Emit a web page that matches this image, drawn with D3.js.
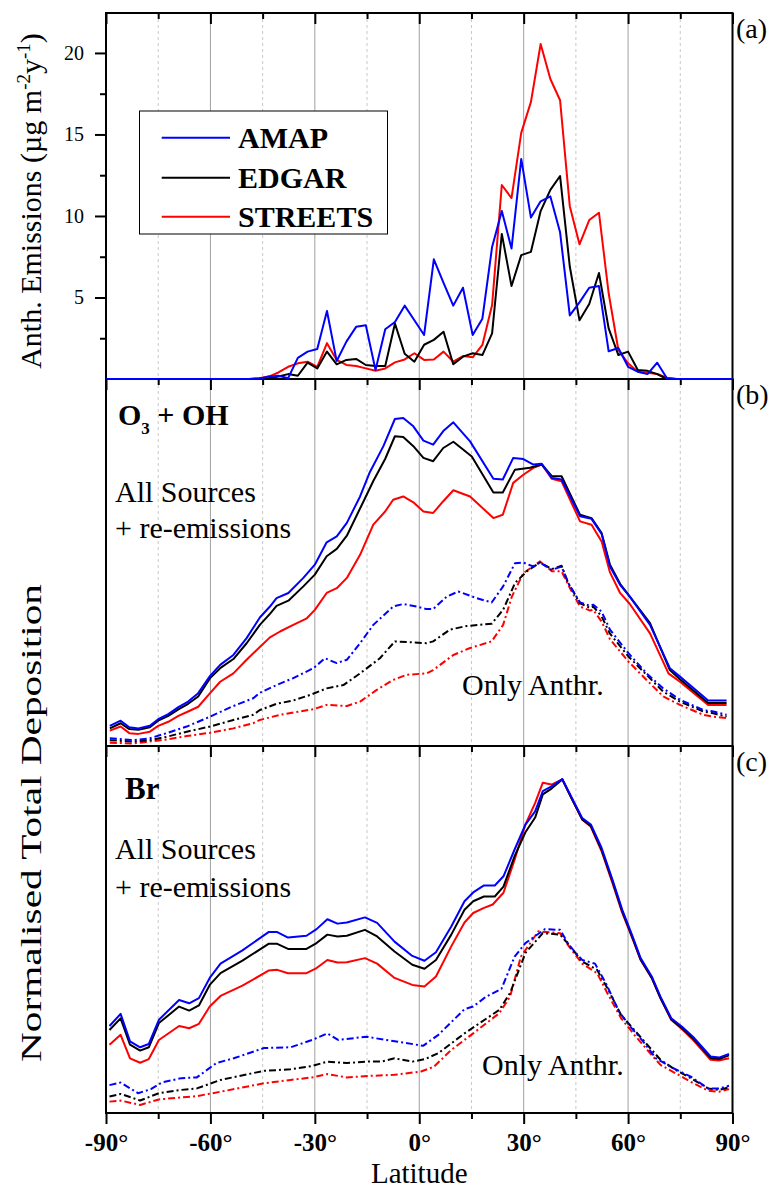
<!DOCTYPE html>
<html>
<head>
<meta charset="utf-8">
<script src="https://cdn.jsdelivr.net/npm/d3@7"></script>
<style>
  body { margin: 0; background: #fff; }
  svg { display: block; font-family: "Liberation Serif", "Times New Roman", serif; }
</style>
</head>
<body>
<svg id="chart" width="771" height="1189"></svg>
<script>
// ---- data ----
const latGrid = [-90, -87.86, -85.10, -82.31, -79.53, -76.74, -73.95, -71.16, -68.37, -65.58, -62.79,
  -60.00, -57.21, -54.42, -51.63, -48.84, -46.04, -43.25, -40.46, -37.67, -34.88, -32.09, -29.30,
  -26.51, -23.72, -20.93, -18.14, -15.35, -12.56, -9.77, -6.98, -4.19, -1.40, 1.40, 4.19, 6.98,
  9.77, 12.56, 15.35, 18.14, 20.93, 23.72, 26.51, 29.30, 32.09, 34.88, 37.67, 40.46, 43.25, 46.04,
  48.84, 51.63, 54.42, 57.21, 60.00, 62.79, 65.58, 68.37, 71.16, 73.95, 76.74, 79.53, 82.31, 85.10,
  87.86, 90];

// panel (a) anthropogenic emissions, ug m-2 y-1
const emisAMAP = [0, 0, 0, 0, 0, 0, 0, 0, 0, 0, 0, 0, 0, 0, 0, 0,
  0.02, 0.15, 0.2, 0.05, 1.3, 1.68, 1.84, 4.17, 1.1, 2.29, 3.2, 3.3, 0.55, 3.05, 3.5, 4.5, 3.6,
  2.7, 7.34, 5.9, 4.5, 5.6, 2.7, 3.7, 8.1, 10.3, 8.0, 13.5, 9.9, 10.9, 11.2, 9.0, 3.9, 4.7, 5.6,
  5.7, 1.7, 1.9, 0.75, 0.45, 0.3, 1.0, 0.05, 0, 0, 0, 0, 0, 0, 0];
const emisEDGAR = [0, 0, 0, 0, 0, 0, 0, 0, 0, 0, 0, 0, 0, 0, 0, 0,
  0.02, 0.05, 0.15, 0.3, 0.2, 1.0, 0.65, 1.68, 0.9, 1.17, 1.23, 0.86, 0.8, 0.8, 3.4, 1.55, 1.06,
  2.1, 2.4, 2.9, 0.9, 1.37, 1.58, 1.47, 2.8, 8.9, 5.7, 7.6, 7.8, 10.3, 11.6, 12.45, 6.9, 3.6, 4.6,
  6.5, 3.1, 1.47, 1.68, 0.55, 0.5, 0.3, 0, 0, 0, 0, 0, 0, 0, 0];
const emisSTREETS = [0, 0, 0, 0, 0, 0, 0, 0, 0, 0, 0, 0, 0, 0, 0, 0,
  0.05, 0.15, 0.4, 0.75, 0.96, 1.06, 0.75, 2.2, 1.17, 0.86, 0.8, 0.65, 0.51, 0.65, 1.02, 1.2, 1.58,
  1.17, 1.2, 1.68, 1.06, 1.41, 1.33, 2.09, 4.54, 11.9, 11.1, 15.1, 17.0, 20.55, 18.4, 17.1, 10.6,
  8.26, 9.75, 10.2, 5.26, 1.78, 0.96, 0.45, 0.39, 0.31, 0.08, 0, 0, 0, 0, 0, 0, 0];

// panel (b) O3 + OH, normalised deposition [lat, value]
const ohAllAMAP = [[-88.9,0.055],[-85.8,0.069],[-83.3,0.051],[-80.7,0.048],[-77.4,0.055],[-75.0,0.073],
  [-72.1,0.087],[-69.2,0.106],[-66.4,0.121],[-63.5,0.144],[-60.1,0.191],[-57.2,0.221],[-53.4,0.248],
  [-49.6,0.294],[-45.8,0.35],[-42.9,0.38],[-41.0,0.403],[-37.6,0.417],[-33.3,0.458],[-30.0,0.494],
  [-26.6,0.555],[-23.7,0.571],[-20.8,0.608],[-17.0,0.680],[-14.2,0.746],[-10.3,0.817],[-7.0,0.891],
  [-4.6,0.894],[-1.7,0.871],[1.2,0.832],[4.0,0.821],[6.9,0.858],[9.8,0.882],[14.6,0.830],[21.3,0.728],
  [24.0,0.726],[27.0,0.785],[29.9,0.782],[32.8,0.767],[35.2,0.769],[38.1,0.730],[40.9,0.726],
  [46.2,0.626],[49.5,0.619],[52.4,0.578],[54.8,0.489],[57.7,0.439],[60.5,0.407],[66.3,0.330],
  [72.0,0.212],[74.9,0.189],[83.0,0.124],[88.3,0.124]];
const ohAllEDGAR = [[-88.9,0.048],[-85.8,0.062],[-83.3,0.046],[-80.7,0.044],[-77.4,0.051],[-75.0,0.069],
  [-72.1,0.082],[-69.2,0.100],[-66.4,0.115],[-63.5,0.135],[-60.1,0.185],[-57.2,0.212],[-53.4,0.237],
  [-49.6,0.280],[-45.8,0.330],[-42.9,0.36],[-41.0,0.382],[-37.6,0.396],[-33.3,0.435],[-30.0,0.467],
  [-26.6,0.517],[-23.7,0.537],[-20.8,0.573],[-16.1,0.665],[-13.2,0.722],[-9.8,0.782],[-7.0,0.844],
  [-4.6,0.842],[-1.7,0.817],[1.2,0.785],[4.0,0.776],[6.9,0.812],[9.8,0.829],[15.1,0.789],[21.3,0.691],
  [24.0,0.691],[27.5,0.753],[31.8,0.758],[35.2,0.767],[38.1,0.735],[40.9,0.735],[46.2,0.630],
  [49.5,0.621],[52.4,0.580],[54.8,0.494],[57.7,0.442],[60.5,0.407],[66.3,0.335],[72.0,0.207],
  [74.9,0.182],[83.0,0.117],[88.3,0.117]];
const ohAllSTREETS = [[-88.9,0.042],[-85.8,0.053],[-83.3,0.035],[-80.7,0.033],[-77.4,0.039],[-75.0,0.055],
  [-72.1,0.066],[-69.2,0.082],[-66.4,0.094],[-63.5,0.107],[-60.1,0.144],[-57.2,0.175],[-53.4,0.198],
  [-49.6,0.235],[-45.8,0.27],[-42.9,0.296],[-40.0,0.312],[-36.2,0.330],[-32.3,0.348],[-30.0,0.371],
  [-26.6,0.417],[-23.7,0.430],[-20.8,0.458],[-17.0,0.521],[-13.2,0.603],[-9.8,0.639],[-7.5,0.671],
  [-4.6,0.680],[-1.7,0.664],[1.2,0.639],[4.0,0.635],[6.9,0.667],[9.8,0.697],[14.6,0.680],[21.3,0.621],
  [24.0,0.630],[27.0,0.717],[29.9,0.739],[32.8,0.758],[35.2,0.767],[38.1,0.728],[40.9,0.721],
  [46.2,0.612],[49.5,0.603],[52.4,0.557],[54.8,0.473],[57.7,0.417],[60.5,0.387],[66.3,0.307],
  [71.6,0.198],[74.9,0.175],[83.0,0.112],[88.3,0.112]];
const ohAnthAMAP = [[-88.9,0.021],[-82.2,0.016],[-77.4,0.021],[-72.6,0.035],[-66.8,0.053],[-60.1,0.080],
  [-53.4,0.109],[-47.7,0.130],[-45.8,0.145],[-41.0,0.166],[-36.2,0.185],[-30.4,0.212],[-27.1,0.239],
  [-23.7,0.226],[-20.8,0.235],[-17.0,0.280],[-13.2,0.330],[-7.5,0.380],[-4.6,0.387],[-0.7,0.380],
  [2.1,0.373],[4.0,0.373],[7.9,0.407],[11.2,0.421],[16.5,0.403],[20.8,0.391],[24.1,0.435],[27.5,0.498],
  [29.9,0.500],[32.8,0.489],[34.7,0.500],[38.1,0.480],[40.9,0.489],[42.8,0.444],[46.2,0.391],
  [49.1,0.382],[50.0,0.385],[52.4,0.366],[54.8,0.317],[60.1,0.253],[65.3,0.198],[70.1,0.157],
  [74.9,0.126],[81.6,0.098],[84.5,0.094],[88.3,0.085]];
const ohAnthEDGAR = [[-88.9,0.016],[-82.2,0.012],[-77.4,0.016],[-72.6,0.025],[-66.8,0.039],[-60.1,0.053],
  [-53.4,0.071],[-47.7,0.085],[-45.8,0.098],[-41.0,0.115],[-36.2,0.124],[-31.4,0.139],[-26.6,0.157],
  [-21.8,0.166],[-17.0,0.198],[-11.3,0.239],[-7.0,0.285],[-2.7,0.283],[2.1,0.280],[4.0,0.285],
  [8.8,0.317],[13.6,0.327],[20.8,0.333],[24.1,0.371],[27.5,0.444],[30.9,0.476],[34.7,0.500],
  [38.1,0.482],[40.9,0.491],[42.8,0.444],[46.2,0.389],[49.1,0.376],[50.0,0.380],[52.4,0.353],
  [54.8,0.306],[60.1,0.244],[65.3,0.194],[70.1,0.148],[74.9,0.121],[81.6,0.094],[84.5,0.089],
  [88.3,0.080]];
const ohAnthSTREETS = [[-88.9,0.009],[-82.2,0.007],[-77.4,0.012],[-72.6,0.018],[-66.8,0.027],[-60.1,0.036],
  [-53.4,0.048],[-47.7,0.062],[-45.8,0.071],[-40.0,0.085],[-34.4,0.094],[-30.5,0.100],[-26.6,0.112],
  [-20.8,0.109],[-17.0,0.121],[-12.2,0.153],[-7.5,0.180],[-3.6,0.194],[2.1,0.198],[4.0,0.207],
  [9.8,0.248],[14.6,0.267],[20.8,0.285],[24.1,0.330],[26.6,0.407],[29.9,0.471],[34.7,0.503],
  [38.1,0.476],[40.9,0.476],[43.3,0.430],[46.2,0.380],[49.1,0.369],[50.0,0.371],[52.4,0.339],
  [54.8,0.291],[60.1,0.230],[65.3,0.180],[70.1,0.135],[74.9,0.112],[81.6,0.085],[84.5,0.080],
  [88.3,0.076]];

// panel (c) Br, normalised deposition [lat, value]
const brAllAMAP = [[-89.0,0.237],[-85.8,0.270],[-83.1,0.195],[-80.2,0.179],[-77.7,0.188],[-74.8,0.254],
  [-69.0,0.308],[-66.1,0.299],[-63.3,0.313],[-60.2,0.368],[-57.1,0.407],[-50.8,0.443],[-43.3,0.493],
  [-40.8,0.493],[-37.7,0.478],[-32.4,0.483],[-29.5,0.501],[-26.4,0.528],[-23.5,0.516],[-20.8,0.519],
  [-15.6,0.533],[-12.1,0.518],[-7.1,0.467],[-2.0,0.428],[1.5,0.415],[4.8,0.438],[9.2,0.508],
  [13.0,0.577],[15.5,0.601],[18.6,0.620],[21.7,0.620],[24.2,0.645],[27.4,0.718],[30.5,0.786],
  [33.3,0.822],[35.5,0.877],[38.0,0.890],[41.1,0.910],[43.6,0.863],[46.8,0.804],[49.3,0.786],
  [52.4,0.722],[55.5,0.636],[58.3,0.554],[61.1,0.486],[63.6,0.422],[66.8,0.372],[69.3,0.317],
  [72.4,0.258],[75.5,0.235],[78.7,0.207],[83.7,0.154],[86.1,0.151],[89.0,0.161]];
const brAllEDGAR = [[-89.0,0.226],[-85.8,0.258],[-83.1,0.186],[-80.2,0.170],[-77.7,0.179],[-74.8,0.245],
  [-69.0,0.290],[-66.1,0.279],[-63.3,0.293],[-60.2,0.349],[-57.1,0.381],[-50.8,0.415],[-43.3,0.461],
  [-40.8,0.461],[-37.7,0.447],[-32.4,0.447],[-29.5,0.463],[-26.4,0.486],[-23.5,0.481],[-20.8,0.483],
  [-15.6,0.499],[-12.1,0.481],[-7.1,0.440],[-2.0,0.404],[1.5,0.393],[4.8,0.417],[9.2,0.486],
  [13.0,0.554],[15.5,0.577],[18.6,0.590],[21.7,0.590],[24.2,0.617],[27.4,0.700],[30.5,0.765],
  [33.3,0.805],[35.5,0.868],[38.0,0.884],[41.1,0.909],[43.6,0.860],[46.8,0.800],[49.3,0.782],
  [52.4,0.717],[55.5,0.632],[58.3,0.550],[61.1,0.482],[63.6,0.418],[66.8,0.368],[69.3,0.313],
  [72.4,0.255],[75.5,0.231],[78.7,0.203],[83.7,0.150],[86.1,0.147],[89.0,0.157]];
const brAllSTREETS = [[-89.0,0.186],[-85.8,0.213],[-83.1,0.149],[-80.2,0.137],[-77.7,0.147],[-74.8,0.199],
  [-69.0,0.237],[-66.1,0.231],[-63.3,0.243],[-60.2,0.290],[-57.1,0.319],[-50.8,0.347],[-43.3,0.388],
  [-40.8,0.390],[-37.7,0.381],[-32.4,0.381],[-29.5,0.395],[-26.4,0.417],[-23.5,0.410],[-20.8,0.411],
  [-15.6,0.422],[-12.1,0.407],[-7.1,0.368],[-2.0,0.349],[1.5,0.345],[4.8,0.372],[9.2,0.454],
  [13.0,0.519],[15.5,0.545],[18.6,0.559],[21.1,0.568],[24.2,0.600],[27.4,0.690],[30.5,0.786],
  [33.3,0.845],[35.5,0.900],[38.0,0.895],[41.1,0.909],[43.6,0.861],[46.8,0.800],[49.3,0.780],
  [52.4,0.713],[55.5,0.627],[58.3,0.546],[61.1,0.479],[63.6,0.417],[66.8,0.368],[69.3,0.313],
  [72.4,0.254],[75.5,0.228],[78.7,0.199],[83.7,0.145],[86.1,0.143],[89.0,0.149]];
const brAnthAMAP = [[-89.0,0.076],[-85.8,0.083],[-80.8,0.054],[-77.1,0.065],[-74.0,0.083],[-68.3,0.095],
  [-63.9,0.097],[-58.3,0.136],[-53.3,0.149],[-44.6,0.177],[-37.0,0.179],[-30.8,0.199],[-26.4,0.217],
  [-23.3,0.199],[-15.2,0.208],[-9.6,0.199],[-4.5,0.192],[1.1,0.183],[5.5,0.213],[13.0,0.283],
  [15.5,0.290],[19.2,0.317],[23.6,0.338],[27.4,0.426],[30.5,0.463],[36.1,0.501],[40.5,0.499],
  [43.0,0.458],[46.8,0.417],[50.5,0.407],[53.6,0.354],[57.4,0.276],[60.5,0.237],[64.3,0.195],
  [68.0,0.149],[73.0,0.122],[78.0,0.099],[83.0,0.067],[86.1,0.067],[89.0,0.074]];
const brAnthEDGAR = [[-89.0,0.045],[-85.8,0.052],[-80.2,0.034],[-74.8,0.054],[-68.3,0.063],[-63.9,0.067],
  [-57.1,0.090],[-44.6,0.115],[-37.0,0.119],[-30.8,0.128],[-26.4,0.140],[-20.8,0.136],[-15.2,0.140],
  [-10.8,0.140],[-7.1,0.149],[-2.0,0.140],[1.7,0.147],[5.5,0.163],[13.0,0.217],[18.0,0.249],
  [23.0,0.281],[26.1,0.327],[30.5,0.436],[35.5,0.490],[40.5,0.486],[43.0,0.458],[46.8,0.413],
  [51.1,0.390],[54.3,0.336],[58.0,0.267],[61.8,0.226],[65.5,0.186],[69.3,0.145],[73.7,0.117],
  [78.0,0.095],[83.0,0.067],[86.1,0.063],[89.0,0.070]];
const brAnthSTREETS = [[-89.0,0.031],[-85.8,0.034],[-80.2,0.022],[-74.8,0.037],[-63.9,0.046],[-57.1,0.058],
  [-44.6,0.081],[-37.0,0.090],[-30.8,0.097],[-26.4,0.106],[-20.8,0.097],[-14.5,0.101],[-7.1,0.104],
  [0.5,0.113],[4.2,0.126],[9.2,0.172],[15.5,0.217],[23.0,0.272],[26.1,0.317],[29.2,0.426],
  [34.2,0.495],[40.5,0.490],[43.0,0.454],[46.8,0.407],[51.1,0.381],[54.3,0.322],[58.0,0.258],
  [61.8,0.213],[65.5,0.172],[69.3,0.131],[73.7,0.108],[78.0,0.085],[83.0,0.061],[86.1,0.058],
  [89.0,0.065]];

const latMajor = [-90, -60, -30, 0, 30, 60, 90];
const latMinor = [-75, -45, -15, 15, 45, 75];
const emisTicks = [5, 10, 15, 20];
const emisMinor = [2.5, 7.5, 12.5, 17.5];
const legendNames = ["AMAP", "EDGAR", "STREETS"];
const colors = { AMAP: "#0000ff", EDGAR: "#000000", STREETS: "#ff0000" };

// ---- layout ----
const svg = d3.select("#chart");
const x = d3.scaleLinear().domain([-90, 90]).range([106, 732.5]);
const panels = [
  { top: 13, bottom: 379, tag: "(a)" },
  { top: 379, bottom: 746, tag: "(b)" },
  { top: 746, bottom: 1113, tag: "(c)" }
];
const yA = d3.scaleLinear().domain([0, 22.45]).range([379, 13]);
const yB = d3.scaleLinear().domain([0, 1]).range([746, 379]);
const yC = d3.scaleLinear().domain([0, 1]).range([1113, 746]);

// grid lines + frames
panels.forEach(p => {
  svg.append("g").selectAll("line")
    .data(latMinor)
    .join("line")
    .attr("x1", d => x(d)).attr("x2", d => x(d))
    .attr("y1", p.top).attr("y2", p.bottom)
    .attr("stroke", "#c8c8c8").attr("stroke-width", 1)
    .attr("stroke-dasharray", "3,3");
  svg.append("g").selectAll("line")
    .data(latMajor.slice(1, -1))
    .join("line")
    .attr("x1", d => x(d)).attr("x2", d => x(d))
    .attr("y1", p.top).attr("y2", p.bottom)
    .attr("stroke", "#a0a0a0").attr("stroke-width", 1);
  svg.append("rect")
    .attr("x", x(-90)).attr("y", p.top)
    .attr("width", x(90) - x(-90)).attr("height", p.bottom - p.top)
    .attr("fill", "none").attr("stroke", "#000").attr("stroke-width", 2);
});

// lines
function drawLine(data, y, color, dashed) {
  const line = d3.line().x(d => x(d[0])).y(d => y(d[1]));
  svg.append("path")
    .datum(data)
    .attr("fill", "none")
    .attr("stroke", color)
    .attr("stroke-width", 2)
    .attr("stroke-linejoin", "round")
    .attr("stroke-dasharray", dashed ? "7,3,2,3" : null)
    .attr("d", line);
}

const zipA = vals => latGrid.map((l, i) => [l, vals[i]]);
drawLine(zipA(emisSTREETS), yA, colors.STREETS, false);
drawLine(zipA(emisEDGAR), yA, colors.EDGAR, false);
drawLine(zipA(emisAMAP), yA, colors.AMAP, false);

drawLine(ohAnthSTREETS, yB, colors.STREETS, true);
drawLine(ohAnthEDGAR, yB, colors.EDGAR, true);
drawLine(ohAnthAMAP, yB, colors.AMAP, true);
drawLine(ohAllSTREETS, yB, colors.STREETS, false);
drawLine(ohAllEDGAR, yB, colors.EDGAR, false);
drawLine(ohAllAMAP, yB, colors.AMAP, false);

drawLine(brAnthSTREETS, yC, colors.STREETS, true);
drawLine(brAnthEDGAR, yC, colors.EDGAR, true);
drawLine(brAnthAMAP, yC, colors.AMAP, true);
drawLine(brAllSTREETS, yC, colors.STREETS, false);
drawLine(brAllEDGAR, yC, colors.EDGAR, false);
drawLine(brAllAMAP, yC, colors.AMAP, false);

// ticks and panel tags
panels.forEach(p => {
  const tMaj = svg.append("g").attr("transform", `translate(0,${p.top})`)
    .call(d3.axisBottom(x).tickValues(latMajor).tickSize(11).tickFormat(""));
  const tMin = svg.append("g").attr("transform", `translate(0,${p.top})`)
    .call(d3.axisBottom(x).tickValues(latMinor).tickSize(6).tickFormat(""));
  [tMaj, tMin].forEach(g => {
    g.select(".domain").remove();
    g.selectAll(".tick line").attr("stroke", "#000").attr("stroke-width", 2);
  });
  svg.append("text")
    .attr("x", 736).attr("y", p.top + 25)
    .attr("font-size", 28)
    .text(p.tag);
});

// bottom axis
const bMaj = svg.append("g").attr("transform", "translate(0,1113)")
  .call(d3.axisBottom(x).tickValues(latMajor).tickSize(11).tickPadding(9).tickFormat(d => d + "°"));
const bMin = svg.append("g").attr("transform", "translate(0,1113)")
  .call(d3.axisBottom(x).tickValues(latMinor).tickSize(6).tickFormat(""));
[bMaj, bMin].forEach(g => {
  g.select(".domain").remove();
  g.selectAll(".tick line").attr("stroke", "#000").attr("stroke-width", 2);
});
bMaj.selectAll(".tick text")
  .attr("font-family", "Liberation Serif")
  .attr("font-size", 25).attr("font-weight", "bold").attr("fill", "#000");

svg.append("text")
  .attr("x", x(0)).attr("y", 1183)
  .attr("text-anchor", "middle").attr("font-size", 29)
  .text("Latitude");

// left axis (a)
const lMaj = svg.append("g").attr("transform", "translate(106,0)")
  .call(d3.axisLeft(yA).tickValues(emisTicks).tickSize(11).tickPadding(11));
const lMin = svg.append("g").attr("transform", "translate(106,0)")
  .call(d3.axisLeft(yA).tickValues(emisMinor).tickSize(6).tickFormat(""));
[lMaj, lMin].forEach(g => {
  g.select(".domain").remove();
  g.selectAll(".tick line").attr("stroke", "#000").attr("stroke-width", 2);
});
lMaj.selectAll(".tick text")
  .attr("font-family", "Liberation Serif")
  .attr("font-size", 20).attr("fill", "#000");

// y titles
const t1 = svg.append("text")
  .attr("transform", "translate(41,201) rotate(-90)")
  .attr("text-anchor", "middle").attr("font-size", 30);
t1.append("tspan").text("Anth. Emissions (µg m");
t1.append("tspan").attr("dy", -11).attr("font-size", 19).text("-2");
t1.append("tspan").attr("dy", 11).text("y");
t1.append("tspan").attr("dy", -11).attr("font-size", 19).text("-1");
t1.append("tspan").attr("dy", 11).text(")");

svg.append("text")
  .attr("transform", "translate(41,823) rotate(-90)")
  .attr("text-anchor", "middle").attr("font-size", 30)
  .attr("textLength", 478).attr("lengthAdjust", "spacingAndGlyphs")
  .text("Normalised Total Deposition");

// legend
svg.append("rect")
  .attr("x", 139.5).attr("y", 111).attr("width", 248).attr("height", 123)
  .attr("fill", "#fff").attr("stroke", "#000").attr("stroke-width", 1);
const legY = [137.7, 177.7, 216.7];
legendNames.forEach((n, i) => {
  svg.append("line")
    .attr("x1", 161.7).attr("x2", 230)
    .attr("y1", legY[i]).attr("y2", legY[i])
    .attr("stroke", colors[n]).attr("stroke-width", 2);
  svg.append("text")
    .attr("x", 238).attr("y", legY[i] + 10.5)
    .attr("font-size", 30).attr("font-weight", "bold")
    .text(n);
});

// panel annotations
const oh = svg.append("text").attr("x", 118).attr("y", 425)
  .attr("font-size", 30).attr("font-weight", "bold");
oh.append("tspan").text("O");
oh.append("tspan").attr("dy", 9).attr("font-size", 17).text("3");
oh.append("tspan").attr("dy", -9).text(" + OH");

svg.append("text").attr("x", 125).attr("y", 799)
  .attr("font-size", 31).attr("font-weight", "bold").text("Br");

[[501.7, 538.3], [859.3, 896.7]].forEach(([y1, y2]) => {
  svg.append("text").attr("x", 115).attr("y", y1).attr("font-size", 30).text("All Sources");
  svg.append("text").attr("x", 115).attr("y", y2).attr("font-size", 30).text("+ re-emissions");
});
svg.append("text").attr("x", 462).attr("y", 695).attr("font-size", 30).text("Only Anthr.");
svg.append("text").attr("x", 482).attr("y", 1075).attr("font-size", 30).text("Only Anthr.");
</script>
</body>
</html>
